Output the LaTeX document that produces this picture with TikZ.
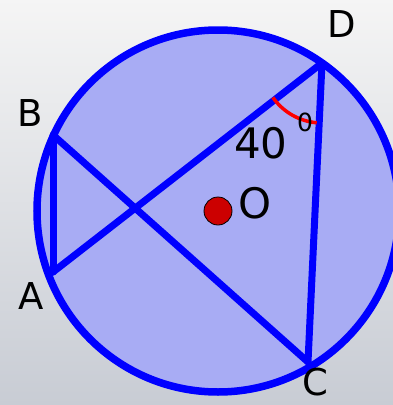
\documentclass[tikz,border=0pt]{standalone}
\usepackage{fontspec}
\setmainfont{DejaVu Sans}

\definecolor{discfill}{HTML}{A8ACF4}
\definecolor{dotred}{HTML}{CC0000}

\tikzset{
  chord/.style={blue, line width=7pt, line cap=round},
  ptlabel/.style={font=\fontsize{37}{40}\selectfont, inner sep=0pt}
}

\begin{document}
\begin{tikzpicture}[x={(1pt,0)}, y={(0,-1pt)}]
    % Background
    \useasboundingbox (0,0) rectangle (393,405);
    \shade[top color=black!4, bottom color={rgb,255:red,200;green,204;blue,212}] (0,0) rectangle (393,405);

    % Circle and its points
    \coordinate (O) at (218,211);
    \coordinate (D) at (322,63);
    \coordinate (B) at (53,135);
    \coordinate (A) at (53,272);
    \coordinate (C) at (308,362);
    \filldraw[fill=discfill, draw=blue, line width=7.5pt] (O) circle (181);

    % Chords
    \draw[chord] (B) -- (A);
    \draw[chord] (B) -- (C);
    \draw[chord] (A) -- (D);
    \draw[chord] (D) -- (C);

    % Angle at D
    \draw[red, line width=3.5pt] (D) ++(145:60) arc[start angle=145, end angle=95, radius=60];
    \node[font=\fontsize{42}{44}\selectfont, inner sep=0pt] (ang) at (261,143) {40};
    \node[font=\fontsize{25}{28}\selectfont, inner sep=0pt] (deg) at (305,122) {0};

    % Centre
    \filldraw[fill=dotred, draw=black, line width=0.8pt] (O) circle (14);
    \node[font=\fontsize{42}{44}\selectfont, inner sep=0pt] (Olab) at (255,203) {O};

    % Labels
    \node[ptlabel] (Dlab) at (342,24) {D};
    \node[ptlabel] (Blab) at (30,113) {B};
    \node[ptlabel] (Alab) at (31,296) {A};
    \node[ptlabel] (Clab) at (315,382) {C};
\end{tikzpicture}
\end{document}
